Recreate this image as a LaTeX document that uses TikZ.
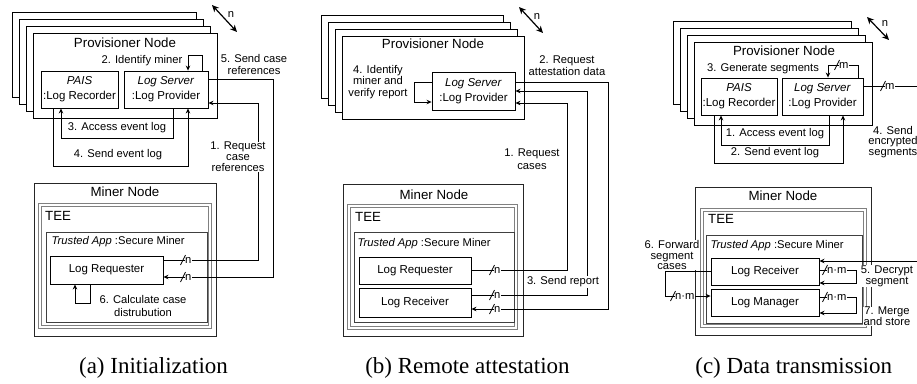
\documentclass[tikz,border=0pt]{standalone}
\usepackage{fontspec}
\setmainfont{Liberation Sans}
\newfontfamily\capfont{Liberation Serif}
\usetikzlibrary{arrows.meta}
\newcommand{\mkn}[4]{%
  \node[mtxt, anchor=west] (#1) at (#2+1.5,#3) {#4};
  \draw[mk] (#2-2.5,#3+5) -- (#2+2.5,#3-5);}
\begin{document}
\begin{tikzpicture}[x=1pt,y=-1pt,
  bx/.style={draw, line width=0.9pt, inner sep=0pt, align=center, font=\fontsize{11.5}{15}\selectfont},
  pv/.style={draw, fill=white, line width=0.9pt, inner sep=0pt},
  mn/.style={draw=black!85, line width=0.9pt, inner sep=0pt},
  tee/.style={draw=black!50, double=white, double distance=1.2pt, line width=1.1pt, inner sep=0pt},
  ta/.style={draw=black!75, line width=0.8pt, inner sep=0pt},
  ttl/.style={font=\fontsize{13.3}{15}\selectfont, inner sep=0pt},
  lbl/.style={font=\fontsize{11.2}{12}\selectfont, align=center, inner sep=0.5pt},
  wlbl/.style={lbl, fill=white},
  cn/.style={line width=0.8pt},
  arr/.style={cn, -{Stealth[length=5pt,width=4.5pt]}},
  narr/.style={line width=1.2pt, {Stealth[length=7pt,width=6.5pt]}-{Stealth[length=7pt,width=6.5pt]}},
  captxt/.style={font=\capfont\fontsize{23}{26}\selectfont, inner sep=0pt},
  mk/.style={line width=0.8pt},
  mtxt/.style={font=\fontsize{11.2}{12}\selectfont, fill=white, inner sep=0.5pt},
]
\useasboundingbox (0,0) rectangle (917,383);

% ================= Panel (a) =================
\node[pv, minimum width=184pt, minimum height=85pt] (pa1) at (104,54.5) {};
\node[pv, minimum width=184pt, minimum height=85pt] (pa2) at (111,61.5) {};
\node[pv, minimum width=184pt, minimum height=85pt] (pa3) at (118,68.5) {};
\node[pv, minimum width=184pt, minimum height=85pt] (pa4) at (125,75.5) {};
\node[ttl] (pta) at (125,43) {Provisioner Node};
\coordinate (na1) at (212,5);
\coordinate (na2) at (237,32);
\draw[narr] (na1) -- (na2);
\node[lbl] (nta) at (231,14) {n};
\node[bx, minimum width=77pt, minimum height=37pt] (pais1) at (79.5,89.5) {\textit{PAIS}\\:Log Recorder};
\node[bx, minimum width=84pt, minimum height=37pt] (ls1) at (166,89.5) {\textit{Log Server}\\:Log Provider};

\node[mn, minimum width=182pt, minimum height=153pt] (mna) at (125,259.5) {};
\node[ttl] (mta) at (125,192) {Miner Node};
\node[tee, minimum width=170pt, minimum height=122pt] (teea) at (125,266) {};
\node[ttl, anchor=west] (teeta) at (45,216) {TEE};
\node[ta, minimum width=161pt, minimum height=90pt] (taa) at (126.5,277) {};
\node[lbl, anchor=west] (tata) at (51,242) {\textit{Trusted App} :Secure Miner};
\node[bx, minimum width=113pt, minimum height=28pt] (lq1) at (106.5,270) {Log Requester};

\draw[arr] (ls1.north -| 202,0) -- (202,55) -- (188,55) -- (ls1.north -| 188,0);
\node[lbl, anchor=east] (la2) at (183,61) {2. Identify miner};
\draw[arr] (ls1.east |- 0,79) -- (273,79) -- (273,277) -- (lq1.east |- 0,277);
\draw[arr] (lq1.east |- 0,260) -- (258,260) -- (258,103) -- (ls1.east |- 0,103);
\node[lbl, font=\fontsize{11.2}{12}\selectfont] (la5) at (254,64) {5. Send case\\references};
\node[wlbl, font=\fontsize{11.2}{11}\selectfont] (la1) at (238,157) {1. Request\\case\\references};
\draw[arr] (ls1.south -| 173,0) -- (173,138) -- (61,138) -- (pais1.south -| 61,0);
\draw[arr] (pais1.south -| 53,0) -- (53,166) -- (188,166) -- (ls1.south -| 188,0);
\node[lbl] (la3) at (117,128) {3. Access event log};
\node[lbl] (la4) at (118,155) {4. Send event log};
\draw[arr] (lq1.south -| 90,0) -- (90,303) -- (75,303) -- (lq1.south -| 75,0);
\node[lbl, font=\fontsize{11.2}{13}\selectfont] (la6) at (143,305.5) {6. Calculate case\\distrubution};
\mkn{ma1}{183}{260}{n}
\mkn{ma2}{183}{277}{n}
\node[captxt] (capa) at (153.5,368) {(a) Initialization};

% ================= Panel (b) =================
\node[pv, minimum width=182pt, minimum height=83pt] (pb1) at (412,56.5) {};
\node[pv, minimum width=182pt, minimum height=83pt] (pb2) at (419,63.5) {};
\node[pv, minimum width=182pt, minimum height=83pt] (pb3) at (426,70.5) {};
\node[pv, minimum width=182pt, minimum height=83pt] (pb4) at (433,77.5) {};
\node[ttl] (ptb) at (433,44) {Provisioner Node};
\coordinate (nb1) at (519,7);
\coordinate (nb2) at (543,33);
\draw[narr] (nb1) -- (nb2);
\node[lbl] (ntb) at (537,16) {n};
\node[bx, minimum width=83pt, minimum height=38pt] (ls2) at (473.5,91) {\textit{Log Server}\\:Log Provider};

\node[mn, minimum width=180pt, minimum height=152pt] (mnb) at (433,260) {};
\node[ttl] (mtb) at (434,195) {Miner Node};
\node[tee, minimum width=167pt, minimum height=122pt] (teeb) at (432.5,267) {};
\node[ttl, anchor=west] (teetb) at (355,217) {TEE};
\node[ta, minimum width=160pt, minimum height=90pt] (tab) at (434,277) {};
\node[lbl, anchor=west] (tatb) at (357,244) {\textit{Trusted App} :Secure Miner};
\node[bx, minimum width=112pt, minimum height=27pt] (lq2) at (415,270.5) {Log Requester};
\node[bx, minimum width=112pt, minimum height=29pt] (lr2) at (415,302.5) {Log Receiver};

\node[lbl, font=\fontsize{11.2}{11.5}\selectfont] (lb4) at (378,82) {4. Identify\\miner and\\verify report};
\draw[arr] (ls2.west |- 0,82) -- (414,82) -- (414,102) -- (ls2.west |- 0,102);
\draw[arr] (ls2.east |- 0,82) -- (608,82) -- (608,309) -- (lr2.east |- 0,309);
\draw[arr] (lr2.east |- 0,295) -- (587,295) -- (587,91) -- (ls2.east |- 0,91);
\draw[arr] (lq2.east |- 0,270) -- (567,270) -- (567,103) -- (ls2.east |- 0,103);
\node[lbl] (lb2) at (567,66) {2. Request\\attestation data};
\node[lbl, font=\fontsize{11.2}{13}\selectfont] (lb1) at (532,159.5) {1. Request\\cases};
\node[wlbl] (lb3) at (563,282) {3. Send report};
\mkn{mb1}{492}{270}{n}
\mkn{mb2}{492}{295}{n}
\mkn{mb3}{492}{309}{n}
\node[captxt] (capb) at (467.5,368) {(b) Remote attestation};

% ================= Panel (c) =================
\node[pv, minimum width=178pt, minimum height=83pt] (pc1) at (762,62.5) {};
\node[pv, minimum width=178pt, minimum height=83pt] (pc2) at (769,69.5) {};
\node[pv, minimum width=178pt, minimum height=83pt] (pc3) at (776,76.5) {};
\node[pv, minimum width=178pt, minimum height=83pt] (pc4) at (783,83.5) {};
\node[ttl] (ptc) at (784,51) {Provisioner Node};
\coordinate (nc1) at (867,17);
\coordinate (nc2) at (889,40);
\draw[narr] (nc1) -- (nc2);
\node[lbl] (ntc) at (885,23) {n};
\node[bx, minimum width=76pt, minimum height=37pt] (pais3) at (739,96.5) {\textit{PAIS}\\:Log Recorder};
\node[bx, minimum width=81pt, minimum height=37pt] (ls3) at (822.5,96.5) {\textit{Log Server}\\:Log Provider};

\node[mn, minimum width=176pt, minimum height=148pt] (mnc) at (783,261) {};
\node[ttl] (mtc) at (783,196) {Miner Node};
\node[tee, minimum width=163pt, minimum height=116pt] (teec) at (783.5,268) {};
\node[ttl, anchor=west] (teetc) at (708,219) {TEE};
\node[ta, minimum width=156pt, minimum height=88pt] (tac) at (784,279) {};
\node[lbl, anchor=west] (tatc) at (710,246) {\textit{Trusted App} :Secure Miner};
\node[bx, minimum width=108pt, minimum height=27pt] (lr3) at (765,271.5) {Log Receiver};
\node[bx, minimum width=108pt, minimum height=27pt] (lm3) at (765,302.5) {Log Manager};

\draw[arr] (ls3.north -| 858,0) -- (858,65) -- (828,65) -- (ls3.north -| 828,0);
\node[lbl] (lc3) at (763,69) {3. Generate segments};
\draw[arr] (ls3.east |- 0,86) -- (945,86) -- (945,261) -- (lr3.east |- 0,261);
\node[lbl, font=\fontsize{11.2}{10.5}\selectfont] (lc4) at (893,142) {4. Send\\encrypted\\segments};
\draw[arr] (ls3.south -| 829,0) -- (829,145) -- (721,145) -- (pais3.south -| 721,0);
\draw[arr] (pais3.south -| 714,0) -- (714,163) -- (843,163) -- (ls3.south -| 843,0);
\node[lbl] (lc1) at (775,134) {1. Access event log};
\node[lbl] (lc2) at (775,153) {2. Send event log};
\draw[arr] (lr3.east |- 0,270) -- (856,270) -- (856,283) -- (lr3.east |- 0,283);
\draw[arr] (lm3.east |- 0,297) -- (856,297) -- (856,313) -- (lm3.east |- 0,313);
\draw[arr] (lr3.west |- 0,271) -- (665,271) -- (665,296) -- (lm3.west |- 0,296);
\node[wlbl, font=\fontsize{11.2}{11}\selectfont] (lc5) at (887,276) {5. Decrypt\\segment};
\node[wlbl, font=\fontsize{11.2}{11}\selectfont] (lc7) at (887,316.5) {7. Merge\\and store};
\node[wlbl, font=\fontsize{11.2}{10.5}\selectfont] (lc6) at (672,255) {6. Forward\\segment\\cases};
\mkn{mc1}{837}{65}{m}
\mkn{mc2}{883}{86}{m}
\mkn{mc3}{825}{270}{n·m}
\mkn{mc4}{825}{297}{n·m}
\mkn{mc5}{673}{296}{n·m}
\node[captxt] (capc) at (793.7,368) {(c) Data transmission};
\end{tikzpicture}
\end{document}
